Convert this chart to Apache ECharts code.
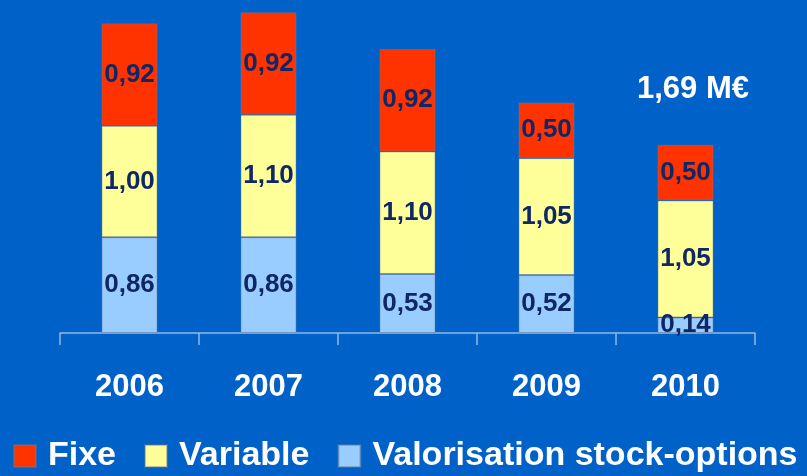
<!DOCTYPE html>
<html>
<head>
<meta charset="utf-8">
<script src="https://cdn.jsdelivr.net/npm/echarts@6/dist/echarts.min.js"></script>
<style>
  html, body { margin: 0; padding: 0; background: #0062c9; }
  #main { width: 807px; height: 476px; }
</style>
</head>
<body>
<div id="main"></div>
<script>
// données (M€)
var years = ['2006', '2007', '2008', '2009', '2010'];
var fixe = [0.92, 0.92, 0.92, 0.50, 0.50];
var variable = [1.00, 1.10, 1.10, 1.05, 1.05];
var stockOptions = [0.86, 0.86, 0.53, 0.52, 0.14];
var seriesNames = ['Fixe', 'Variable', 'Valorisation stock-options'];
var totalNote = '1,69 M€';

var font = "'Liberation Sans', Arial, sans-serif";
var labelColor = '#0f2766';

function fmt(v) {
    return v.toFixed(2).replace('.', ',');
}

function barSeries(name, data, color) {
    return {
        name: name,
        type: 'bar',
        stack: 'total',
        barWidth: 56,
        data: data,
        itemStyle: { color: color, borderColor: 'rgba(110,120,140,0.45)', borderWidth: 1 },
        label: {
            show: true,
            position: 'inside',
            color: labelColor,
            fontFamily: font,
            fontWeight: 'bold',
            fontSize: 26,
            formatter: function (p) { return fmt(p.value); }
        }
    };
}

var myChart = echarts.init(document.getElementById('main'));
myChart.setOption({
    backgroundColor: '#0062c9',
    animation: false,
    grid: { left: 60, right: 52, top: 10, bottom: 143 },
    xAxis: {
        type: 'category',
        data: years,
        axisLine: { lineStyle: { color: '#93b6e6', width: 1.5 } },
        axisTick: { show: true, length: 12, lineStyle: { color: '#93b6e6', width: 1.5 } },
        axisLabel: {
            color: '#ffffff',
            fontFamily: font,
            fontWeight: 'bold',
            fontSize: 31,
            margin: 39
        }
    },
    yAxis: {
        type: 'value',
        min: 0,
        max: 2.9,
        show: false,
        splitLine: { show: false }
    },
    legend: {
        left: 13,
        top: 439,
        itemWidth: 22,
        itemHeight: 22,
        itemGap: 28,
        icon: 'rect',
        padding: 0,
        textStyle: {
            color: '#ffffff',
            fontFamily: font,
            fontWeight: 'bold',
            fontSize: 34,
            padding: [0, 0, 0, 7]
        },
        data: seriesNames
    },
    graphic: [{
        type: 'text',
        left: 637,
        top: 74,
        style: {
            text: totalNote,
            fill: '#ffffff',
            font: 'bold 31px ' + font
        }
    }],
    series: [
        barSeries(seriesNames[2], stockOptions, '#99ccff'),
        barSeries(seriesNames[1], variable, '#ffff99'),
        barSeries(seriesNames[0], fixe, '#ff3300')
    ]
});
</script>
</body>
</html>
